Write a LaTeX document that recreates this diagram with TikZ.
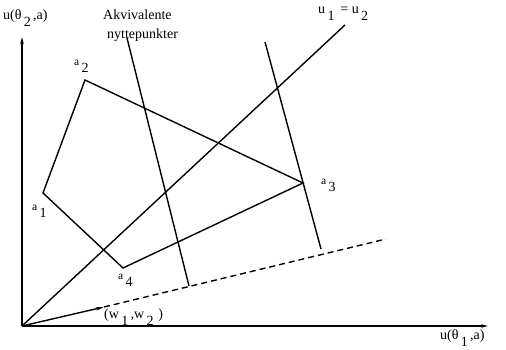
\documentclass[tikz,border=0pt]{standalone}
\usepackage{fontspec}
\setmainfont{Liberation Serif}
\usetikzlibrary{arrows.meta}
\newcommand{\lowsub}[1]{\raisebox{-7pt}{#1}}
\newcommand{\ptlabel}[1]{{\fontsize{11.5}{13}\selectfont a}\,\lowsub{#1}}
\begin{document}
\begin{tikzpicture}[x=1pt,y=-1pt,
  lbl/.style={inner sep=0pt,font=\fontsize{14}{16}\selectfont},
  edge/.style={line width=1.4pt},
  axis/.style={line width=1.6pt,-{Stealth[length=7pt,width=3.5pt]}}]
\useasboundingbox (0,0) rectangle (506,350);
% points
\coordinate (O) at (22,326);
\coordinate (ytop) at (22,37);
\coordinate (xend) at (488,326);
\coordinate (a1) at (43,193);
\coordinate (a2) at (85,80);
\coordinate (a3) at (303,183);
\coordinate (a4) at (123,268);
\coordinate (d1) at (345,25);
\coordinate (p1s) at (127,38);
\coordinate (p1e) at (189,286);
\coordinate (p2s) at (265,42);
\coordinate (p2e) at (321,249);
\coordinate (w) at (104,307);
\coordinate (wend) at (386,239);
% axes
\draw[axis] (O) -- (ytop);
\draw[axis] (O) -- (xend);
% polygon
\draw[edge] (a1) -- (a2) -- (a3) -- (a4) -- cycle;
% diagonal
\draw[edge] (O) -- (d1);
% equivalent lines
\draw[edge] (p1s) -- (p1e);
\draw[edge] (p2s) -- (p2e);
% weight vector
\draw[edge,-{Stealth[length=8pt,width=3.5pt]}] (O) -- (w);
\draw[edge,dash pattern=on 6pt off 4pt] (w) -- (wend);
% labels
\node[lbl,anchor=west] (ly) at (3,18) {u(θ\,\lowsub{2}\,,a)};
\node[lbl,anchor=west] (lx) at (440,338) {u(θ\,\lowsub{1}\,,a)};
\node[lbl,anchor=west] (lak) at (103,15) {Akvivalente};
\node[lbl,anchor=west] (lny) at (107,35) {nyttepunkter};
\node[lbl,anchor=west] (ld) at (318,14) {u\,\lowsub{1}\, = u\,\lowsub{2}};
\node[lbl,anchor=west] (la2) at (74,66) {\ptlabel{2}};
\node[lbl,anchor=west] (la1) at (32,211) {\ptlabel{1}};
\node[lbl,anchor=west] (la3) at (321,185) {\ptlabel{3}};
\node[lbl,anchor=west] (la4) at (118,280) {\ptlabel{4}};
\node[lbl,anchor=west] (lw) at (104,317) {(w\,\lowsub{1}\,,w\,\lowsub{2}\,\,)};
\end{tikzpicture}
\end{document}
